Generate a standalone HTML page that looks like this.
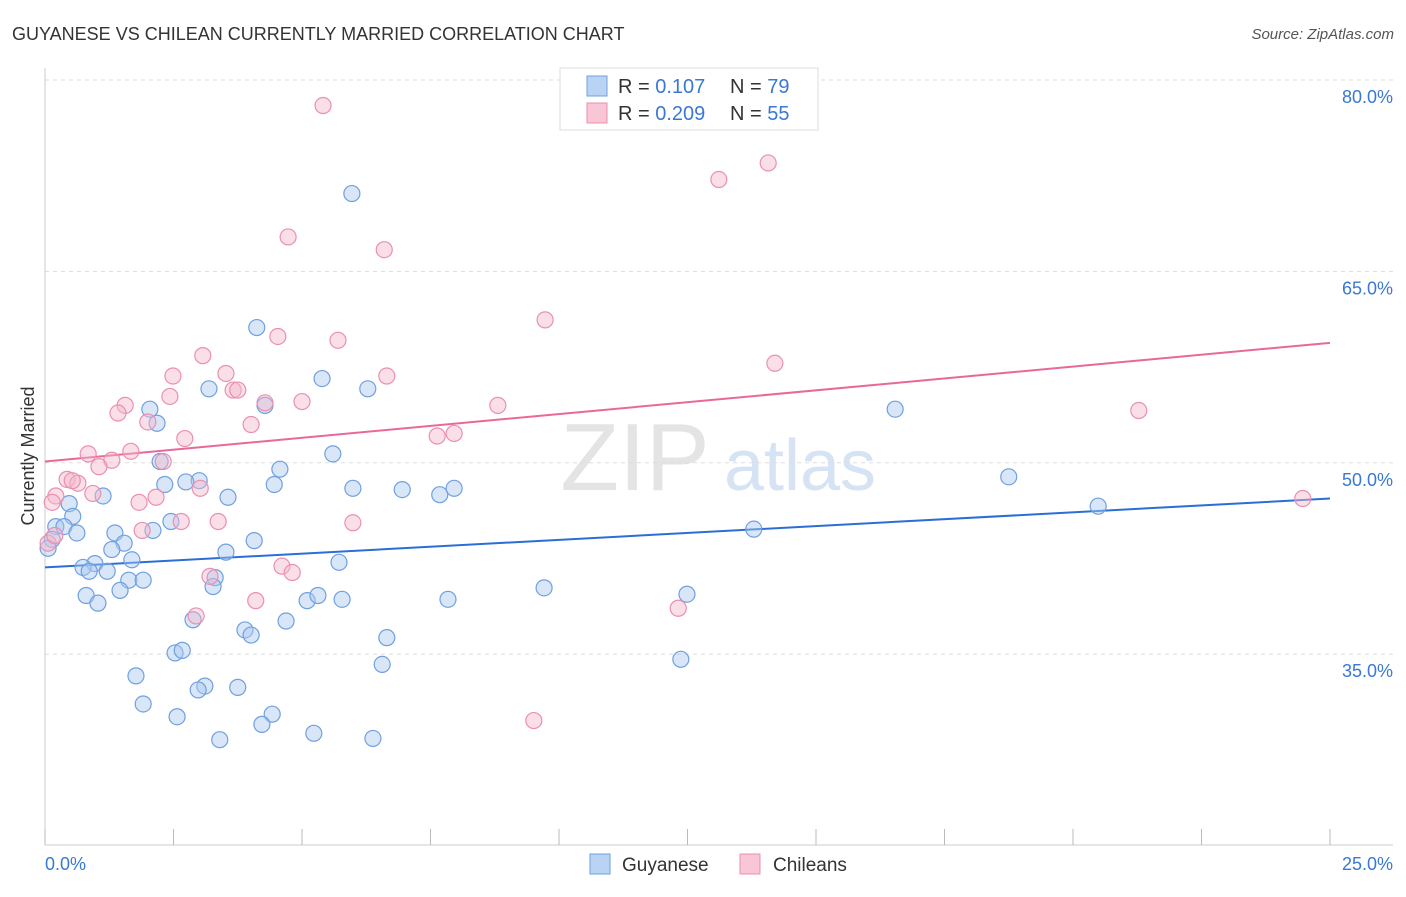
<!DOCTYPE html>
<html><head><meta charset="utf-8">
<style>
body{margin:0;background:#fff;font-family:"Liberation Sans",sans-serif;}
svg text{font-family:"Liberation Sans",sans-serif;}
</style></head>
<body>
<svg id="chart" width="1406" height="892" xmlns="http://www.w3.org/2000/svg">
<text x="12" y="40" font-size="18" fill="#333">GUYANESE VS CHILEAN CURRENTLY MARRIED CORRELATION CHART</text>
<text x="1394" y="39" font-size="15" fill="#555" text-anchor="end" font-style="italic">Source: ZipAtlas.com</text>
<text x="0" y="0" transform="translate(34,456) rotate(-90)" font-size="18" fill="#333" text-anchor="middle">Currently Married</text>
<g>
<text x="635" y="490" font-size="96" fill="#e4e4e4" font-family="Liberation Serif" text-anchor="middle">ZIP</text>
<text x="800" y="490" font-size="72" fill="#d5e3f5" text-anchor="middle">atlas</text>
</g>
<g id="grid"></g>
<g id="axes"></g>
<g id="trend"></g>
<g id="points"></g>
<g>
<rect x="560" y="68" width="258" height="62" fill="#fff" stroke="#ddd"/>
<rect x="587" y="76" width="20" height="20" fill="#b9d3f5" stroke="#6fa0e0"/>
<rect x="587" y="103" width="20" height="20" fill="#f9c6d6" stroke="#eb8fb0"/>
<text x="618" y="93" font-size="20" fill="#333">R = <tspan fill="#3a78d4">0.107</tspan></text>
<text x="730" y="93" font-size="20" fill="#333">N = <tspan fill="#3a78d4">79</tspan></text>
<text x="618" y="120" font-size="20" fill="#333">R = <tspan fill="#3a78d4">0.209</tspan></text>
<text x="730" y="120" font-size="20" fill="#333">N = <tspan fill="#3a78d4">55</tspan></text>
</g>
<g>
<rect x="590" y="854" width="20" height="20" fill="#b9d3f5" stroke="#6fa0e0"/>
<text x="622" y="871" font-size="19" fill="#333">Guyanese</text>
<rect x="740" y="854" width="20" height="20" fill="#f9c6d6" stroke="#eb8fb0"/>
<text x="773" y="871" font-size="19" fill="#333">Chileans</text>
</g>
</svg>
<script>
const yTicks=[80,65,50,35];
const yTickLabels=["80.0%","65.0%","50.0%","35.0%"];
const xTickCount=11;
const xEndLabels=["0.0%","25.0%"];
const blueX=[5.97,4.12,3.19,5.39,6.28,4.28,2.04,2.18,5.60,4.57,2.24,3.00,2.74,2.33,4.46,5.99,6.95,7.68,7.96,3.56,1.13,0.47,0.54,0.21,0.37,0.62,0.14,0.06,1.36,1.54,1.30,2.10,2.45,3.52,4.07,1.69,0.97,0.74,0.86,1.21,1.63,1.91,3.31,3.27,1.46,0.80,1.03,5.10,5.31,5.78,4.69,2.88,3.89,4.01,6.65,2.53,2.67,1.77,3.11,2.98,3.75,1.91,2.57,4.42,4.22,3.40,5.23,6.38,6.56,12.37,12.49,9.71,7.84,5.72,13.79,16.54,18.75,20.49];
const blueY=[71.1,60.6,55.8,56.6,55.8,54.5,54.2,53.1,50.7,49.5,50.1,48.6,48.5,48.3,48.3,48.0,47.9,47.5,48.0,47.3,47.4,46.8,45.8,45.0,45.0,44.5,44.0,43.3,44.5,43.7,43.2,44.7,45.4,43.0,43.9,42.4,42.1,41.8,41.5,41.5,40.8,40.8,41.0,40.3,40.0,39.6,39.0,39.2,39.6,39.3,37.6,37.7,36.9,36.5,36.3,35.1,35.3,33.3,32.5,32.2,32.4,31.1,30.1,30.3,29.5,28.3,28.8,28.4,34.2,34.6,39.7,40.2,39.3,42.2,44.8,54.2,48.9,46.6];
const pinkX=[5.41,4.73,6.60,13.11,14.07,9.73,4.53,5.70,3.07,14.20,2.49,3.52,6.65,2.43,3.66,3.75,4.28,5.00,1.56,1.42,2.00,4.01,8.81,21.28,2.72,1.67,7.63,7.96,0.84,1.30,1.05,2.30,0.43,0.64,0.53,3.02,0.93,2.16,0.21,1.83,0.14,2.65,3.37,5.99,24.47,1.89,0.06,0.19,3.21,4.61,4.81,2.94,4.10,12.32,9.51];
const pinkY=[78.0,67.7,66.7,72.2,73.5,61.2,59.9,59.6,58.4,57.8,56.8,57.0,56.8,55.2,55.7,55.7,54.7,54.8,54.5,53.9,53.2,53.0,54.5,54.1,51.9,50.9,52.1,52.3,50.7,50.2,49.7,50.1,48.7,48.4,48.6,48.0,47.6,47.3,47.4,46.9,46.9,45.4,45.4,45.3,47.2,44.7,43.7,44.3,41.1,41.9,41.4,38.0,39.2,38.6,29.8];
const blueTrend=[41.8,47.2];
const pinkTrend=[50.1,59.4];
const X0=45,X1=1330,Y80=80,PX_PER=12.76;
const xs=v=>X0+(v/25)*(X1-X0);
const ys=v=>Y80+(80-v)*PX_PER;
const NS="http://www.w3.org/2000/svg";
function mk(tag,attrs,parent){const e=document.createElementNS(NS,tag);for(const k in attrs)e.setAttribute(k,attrs[k]);parent.appendChild(e);return e;}
const grid=document.getElementById('grid'),axes=document.getElementById('axes'),trend=document.getElementById('trend'),pts=document.getElementById('points');
yTicks.forEach((t,i)=>{
 const l=mk('line',{x1:X0,x2:1393,y1:ys(t),y2:ys(t),stroke:'#ddd','stroke-dasharray':'4,4'},grid);
 
 
 const tx=mk('text',{x:1393,y:ys(t)+23,'font-size':18,fill:'#3a78d4','text-anchor':'end'},axes);
 tx.textContent=yTickLabels[i];
 
 
});
const ya=mk('line',{x1:X0,x2:X0,y1:68,y2:845,stroke:'#ccc'},axes);


const xa=mk('line',{x1:X0,x2:1393,y1:845,y2:845,stroke:'#ccc'},axes);


for(let i=0;i<xTickCount;i++){
 const v=i*25/(xTickCount-1);
 const t=mk('line',{x1:xs(v),x2:xs(v),y1:829,y2:845,stroke:'#bbb'},axes);
 
 
}
const xl0=mk('text',{x:45,y:870,'font-size':18,fill:'#3a78d4'},axes);
xl0.textContent=xEndLabels[0];


const xl1=mk('text',{x:1393,y:870,'font-size':18,fill:'#3a78d4','text-anchor':'end'},axes);
xl1.textContent=xEndLabels[1];


function drawPts(X,Y,fill,stroke,name){
 X.forEach((x,i)=>{
  const c=mk('circle',{cx:xs(x),cy:ys(Y[i]),r:8,fill:fill,'fill-opacity':0.45,stroke:stroke,'stroke-width':1.2},pts);
  
  
 });
}
drawPts(blueX,blueY,'#a8c8f0','#6fa0e0','guyanese-point');
drawPts(pinkX,pinkY,'#f5b8cc','#eb8fb0','chileans-point');
const tb=mk('line',{x1:xs(0),y1:ys(blueTrend[0]),x2:xs(25),y2:ys(blueTrend[1]),stroke:'#2a6fd6','stroke-width':2},trend);


const tp=mk('line',{x1:xs(0),y1:ys(pinkTrend[0]),x2:xs(25),y2:ys(pinkTrend[1]),stroke:'#e8689a','stroke-width':2},trend);


</script>
</body></html>
